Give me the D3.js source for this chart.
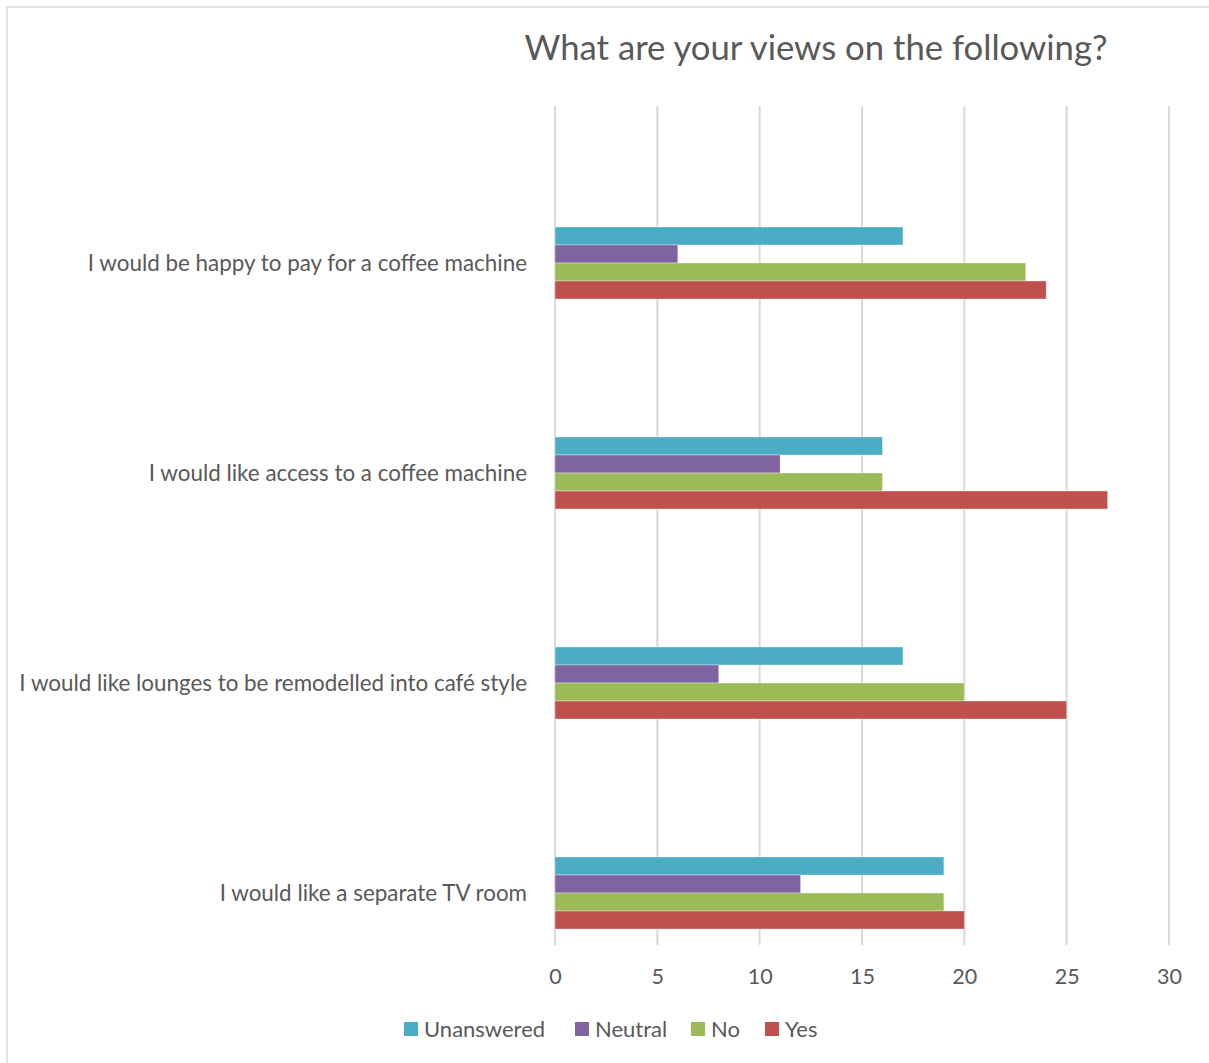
<!DOCTYPE html>
<html>
<head>
<meta charset="utf-8">
<script src="https://cdn.jsdelivr.net/npm/d3@7"></script>
<style>
  html, body { margin: 0; padding: 0; background: #ffffff; }
  svg text { font-family: Lato, "Open Sans", sans-serif; fill: #595959; }
</style>
</head>
<body>
<svg id="chart" width="1209" height="1063"></svg>
<script>
// Survey questions, top to bottom
const categories = [
  "I would be happy to pay for a coffee machine",
  "I would like access to a coffee machine",
  "I would like lounges to be remodelled into café style",
  "I would like a separate TV room"
];
// Response series, in drawing order within each group
const seriesNames = ["Unanswered", "Neutral", "No", "Yes"];
const unanswered = [17, 16, 17, 19];
const neutral    = [6, 11, 8, 12];
const no         = [23, 16, 20, 19];
const yes        = [24, 27, 25, 20];
const seriesValues = [unanswered, neutral, no, yes];
const xTicks = [0, 5, 10, 15, 20, 25, 30];
const titleText = "What are your views on the following?";

const colors = ["#4BACC6", "#8064A2", "#9BBB59", "#C0504D"];

const svg = d3.select("#chart");

// chart frame
svg.append("rect")
  .attr("x", 7).attr("y", 7)
  .attr("width", 1209).attr("height", 1063)
  .attr("fill", "none")
  .attr("stroke", "#d9d9d9")
  .attr("stroke-width", 1.5);

const plotTop = 106, plotBottom = 945;

const x = d3.scaleLinear().domain([0, 30]).range([555, 1169]);
const y = d3.scaleBand().domain(categories).range([158, 998]);
const ySeries = d3.scaleBand().domain(seriesNames).range([0, 72]);

// vertical gridlines
svg.append("g")
  .selectAll("line")
  .data(xTicks)
  .join("line")
  .attr("x1", d => x(d)).attr("x2", d => x(d))
  .attr("y1", plotTop).attr("y2", plotBottom)
  .attr("stroke", "#d9d9d9")
  .attr("stroke-width", 2);

// bars
const rows = [];
categories.forEach((c, i) => {
  seriesNames.forEach((s, j) => {
    rows.push({ cat: c, series: s, value: seriesValues[j][i], color: colors[j] });
  });
});

svg.append("g")
  .selectAll("rect")
  .data(rows)
  .join("rect")
  .attr("x", x(0))
  .attr("y", d => y(d.cat) + y.bandwidth() / 2 - 36 + ySeries(d.series))
  .attr("width", d => x(d.value) - x(0))
  .attr("height", ySeries.bandwidth())
  .attr("fill", d => d.color)
  .attr("stroke", "#ffffff")
  .attr("stroke-opacity", 0.35)
  .attr("stroke-width", 1);

// category labels
svg.append("g")
  .selectAll("text")
  .data(categories)
  .join("text")
  .attr("x", 527)
  .attr("y", d => y(d) + y.bandwidth() / 2)
  .attr("dy", "0.35em")
  .attr("text-anchor", "end")
  .attr("font-size", 22.4)
  .text(d => d);

// x axis tick labels
const xAxis = d3.axisBottom(x).tickValues(xTicks).tickSize(0).tickPadding(0);
const gx = svg.append("g")
  .attr("transform", `translate(0, 984)`)
  .call(xAxis);
gx.select(".domain").remove();
gx.selectAll("text")
  .attr("font-size", 21.5)
  .attr("font-family", "Lato, 'Open Sans', sans-serif")
  .attr("fill", "#595959")
  .attr("dy", 0);

// title
svg.append("text")
  .attr("x", 816).attr("y", 60)
  .attr("text-anchor", "middle")
  .attr("font-size", 34.7)
  .text(titleText);

// legend
const legendX = [404, 575, 691, 765];
const legend = svg.append("g")
  .selectAll("g")
  .data(seriesNames)
  .join("g")
  .attr("transform", (d, i) => `translate(${legendX[i]}, 1029)`);
legend.append("rect")
  .attr("x", 0).attr("y", -7)
  .attr("width", 14).attr("height", 14)
  .attr("fill", (d, i) => colors[i]);
legend.append("text")
  .attr("x", 20).attr("y", 0)
  .attr("dy", "0.35em")
  .attr("font-size", 22)
  .text(d => d);
</script>
</body>
</html>
